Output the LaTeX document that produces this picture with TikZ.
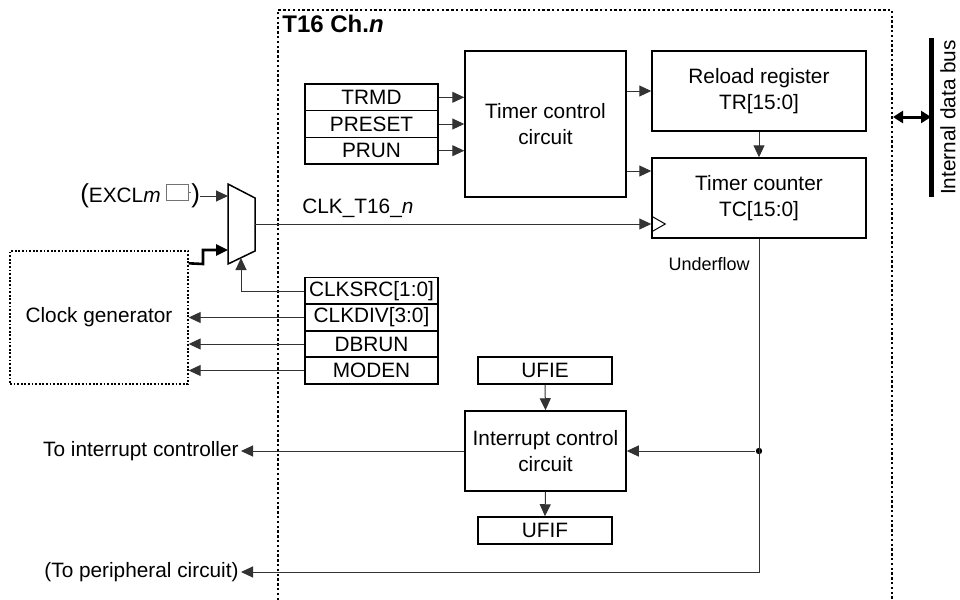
\documentclass[tikz,border=0pt]{standalone}
\usepackage{fontspec}
\setmainfont{Liberation Sans}
\usetikzlibrary{arrows.meta,positioning,calc}

\begin{document}
\begin{tikzpicture}[x=0.5pt,y=-0.5pt,
    font=\fontsize{10.4}{13}\selectfont,
    box/.style={draw,line width=0.75pt,inner sep=0pt,align=center},
    reg/.style={box,minimum width=66.5pt,minimum height=13.3pt},
    flag/.style={box,minimum width=67pt,minimum height=13.5pt},
    sig/.style={draw=black!80,line width=0.5pt,-{Triangle[length=6pt,width=5.5pt]}},
    pulse/.style={line width=1.3pt,-{Triangle[length=6pt,width=5.5pt]}},
    frame/.style={line width=1.3pt,dash pattern=on 1.2pt off 1.2pt},
    dot/.style={circle,fill,inner sep=0pt,minimum size=3.2pt},
    port/.style={draw=black!55,line width=0.5pt,minimum width=11pt,minimum height=8pt,inner sep=0pt}
  ]
    \useasboundingbox (0,0) rectangle (960,600);
    % channel frame
    \draw[frame] (278,600) |- (892,10) -- (892,600);
    \node[anchor=north west,inner sep=0pt,font=\fontsize{12}{14}\selectfont\bfseries] (chlbl) at (282,15) {T16 Ch.\textit{n}};
    % main blocks
    \node[box,minimum width=80.5pt,minimum height=73pt] (tcc) at (545.5,124) {Timer control\\circuit};
    \node[box,minimum width=107pt,minimum height=40pt] (trl) at (759,91) {Reload register\\TR[15:0]};
    \node[box,minimum width=107pt,minimum height=40pt] (tcnt) at (759,198) {Timer counter\\TC[15:0]};
    \node[box,minimum width=80.5pt,minimum height=40pt] (icc) at (545.5,451) {Interrupt control\\circuit};
    \node[flag] (ufie) at (545,370.5) {UFIE};
    \node[flag] (ufif) at (545,530.5) {UFIF};
    \node[box,line width=0.7pt,dash pattern=on 0.9pt off 0.9pt,minimum width=89pt,minimum height=66.5pt] (clkgen) at (99,317.5) {Clock generator};
    % control registers
    \foreach \y/\lab/\nm in {97.3/TRMD/trmd,124/PRESET/preset,150.7/PRUN/prun}
      \node[reg] (\nm) at (371.5,\y) {\lab};
    \foreach \y/\lab/\nm in {291/CLKSRC[1:0]/clksrc,317.5/CLKDIV[3:0]/clkdiv,344/DBRUN/dbrun,370.5/MODEN/moden}
      \node[reg] (\nm) at (371.5,\y) {\lab};
    % clock selector
    \draw[line width=0.75pt] (228,184) -- (255,198) -- (255,251) -- (228,264) -- cycle;
    \coordinate (muxa) at (228,196);
    \coordinate (muxb) at (228,250);
    \coordinate (muxo) at (255,224);
    \coordinate (muxs) at (241,258);
    \node[anchor=east,inner sep=1pt] (excl) at (163,196) {{\fontsize{13}{13}\selectfont(}EXCL\textit{m}};
    \node[port] (exclbox) at (177,192) {};
    \node[anchor=west,inner sep=0pt] (exclr) at (191,196) {\fontsize{13}{13}\selectfont)};
    \draw[black!55,line width=0.5pt] (exclbox.east) -- (exclr.west |- exclbox.east);
    \draw[sig] (exclr.east) -- (muxa);
    \draw[pulse] ([yshift=-6.5pt]clkgen.north east) -- (203,264) -- (203,250) -- (muxb);
    \draw[sig] (clksrc.west) -| (muxs);
    \draw[sig] (muxo) -- (muxo -| tcnt.west);
    \node[anchor=south west,inner sep=1pt] (clklbl) at (300,220) {CLK\_T16\_\textit{n}};
    \draw[line width=0.5pt] ($(tcnt.west)+(0,18)$) -- ($(tcnt.west)+(14,26)$) -- ($(tcnt.west)+(0,34)$);
    % register connections
    \foreach \nm in {trmd,preset,prun}
      \draw[sig] (\nm.east) -- (\nm.east -| tcc.west);
    \foreach \nm in {clkdiv,dbrun,moden}
      \draw[sig] (\nm.west) -- (\nm.west -| clkgen.east);
    \draw[sig] (tcc.east |- trl.west) -- (trl.west);
    \draw[sig] (tcc.east |- 0,171) -- (tcnt.west |- 0,171);
    \draw[sig] (trl.south) -- (tcnt.north);
    % underflow and interrupt
    \node[anchor=east,inner sep=1pt,font=\fontsize{9}{11}\selectfont] (uflbl) at (752,264) {Underflow};
    \node[dot] (split) at (759,451) {};
    \node[anchor=east,inner sep=1pt] (intlbl) at (241,451) {To interrupt controller};
    \node[anchor=east,inner sep=1pt] (perlbl) at (241,572) {(To peripheral circuit)};
    \draw[sig] (tcnt.south) |- (perlbl.east);
    \draw[sig] (split) -- (icc.east);
    \draw[sig] (icc.west) -- (intlbl.east);
    \draw[sig] (ufie.south) -- (icc.north);
    \draw[sig] (icc.south) -- (ufif.north);
    % data bus
    \coordinate (bustop) at (931,38);
    \coordinate (busbot) at (931,197);
    \draw[line width=2.5pt] (bustop) -- (busbot);
    \draw[line width=1.5pt,{Triangle[length=5pt,width=6pt]}-{Triangle[length=5pt,width=6pt]}] (893,117) -- (bustop |- 0,117);
    \node[rotate=90,inner sep=0pt] (buslbl) at (948,117.5) {Internal data bus};
  \end{tikzpicture}
\end{document}
